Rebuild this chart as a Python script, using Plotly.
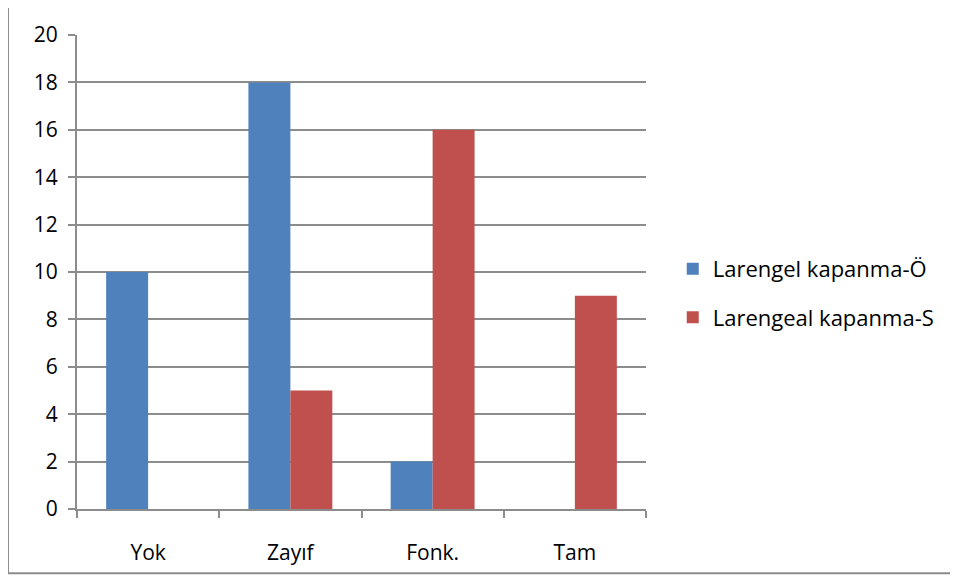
import plotly.graph_objects as go

categories = ["Yok", "Zayıf", "Fonk.", "Tam"]
series_o = [10, 18, 2, 0]
series_s = [0, 5, 16, 9]
name_o = "Larengel kapanma-Ö"
name_s = "Larengeal kapanma-S"
y_ticks = [0, 2, 4, 6, 8, 10, 12, 14, 16, 18, 20]

FONT = "Open Sans"
GRID = "#8c8c8c"

fig = go.Figure()
fig.add_trace(go.Bar(x=categories, y=series_o, name=name_o, marker_color="#4f81bd",
                     marker_line_width=0, legendgroup="a"))
fig.add_trace(go.Bar(x=categories, y=series_s, name=name_s, marker_color="#c0504d",
                     marker_line_width=0, legendgroup="b"))

fig.update_layout(
    width=950, height=570,
    margin=dict(l=69, r=312, t=24, b=66),
    paper_bgcolor="white", plot_bgcolor="white",
    barmode="group", bargap=0.41, bargroupgap=0,
    font=dict(family=FONT, size=21, color="black"),
    legend=dict(x=1.047, y=0.455, xanchor="left", yanchor="middle",
                traceorder="grouped", tracegroupgap=17,
                font=dict(family=FONT, size=22), itemwidth=30),
    showlegend=True,
)
fig.update_xaxes(type="category", showgrid=False, showline=True, linecolor=GRID, linewidth=2,
                 ticks="outside", tickson="boundaries", ticklen=7, tickcolor=GRID, tickwidth=2,
                 tickfont=dict(size=21), ticklabelstandoff=24)
fig.update_yaxes(range=[0, 20], tickvals=y_ticks, showgrid=True, gridcolor=GRID, gridwidth=2,
                 showline=True, linecolor=GRID, linewidth=2, zeroline=False,
                 ticks="outside", ticklen=7, tickcolor=GRID, tickwidth=2,
                 tickfont=dict(size=21), ticklabelstandoff=6)

# outer chart frame (left and bottom edges visible)
fig.add_shape(type="line", xref="paper", yref="paper", x0=-0.1213, x1=-0.1213, y0=-0.1354, y1=1.06,
              line=dict(color=GRID, width=2))
fig.add_shape(type="line", xref="paper", yref="paper", x0=-0.1213, x1=1.56, y0=-0.1354, y1=-0.1354,
              line=dict(color=GRID, width=2))

fig.write_html("out.html")
